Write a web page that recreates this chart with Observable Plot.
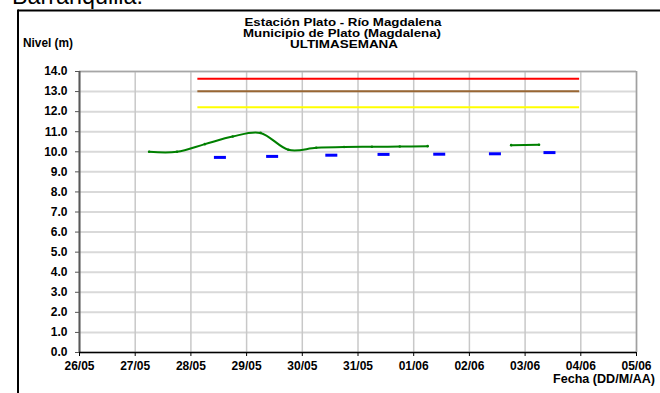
<!DOCTYPE html>
<html>
<head>
<meta charset="utf-8">
<script src="https://cdn.jsdelivr.net/npm/d3@7"></script>
<script src="https://cdn.jsdelivr.net/npm/@observablehq/plot@0.6"></script>
<style>
  html, body { margin: 0; padding: 0; background: white; }
  #wrap { position: relative; width: 660px; height: 393px; overflow: hidden; background: white; }
  #chart svg { position: absolute; left: 0; top: 0; }
  #overlay { position: absolute; left: 0; top: 0; pointer-events: none; }
  #overlay text { font-family: "Liberation Sans", Arial, sans-serif; fill: black; }
</style>
</head>
<body>
<div id="wrap">
  <div id="chart"></div>
  <svg id="overlay" width="660" height="393">
    <text x="12" y="4" font-size="23" textLength="131" lengthAdjust="spacingAndGlyphs">Barranquilla:</text>
    <line x1="18" y1="10.5" x2="660" y2="10.5" stroke="black" stroke-width="2"/>
    <line x1="18" y1="9.5" x2="18" y2="393" stroke="black" stroke-width="2"/>
    <text x="343" y="26" font-size="11" font-weight="bold" text-anchor="middle" textLength="197" lengthAdjust="spacingAndGlyphs">Estación Plato - Río Magdalena</text>
    <text x="342" y="37" font-size="11" font-weight="bold" text-anchor="middle" textLength="198" lengthAdjust="spacingAndGlyphs">Municipio de Plato (Magdalena)</text>
    <text x="344" y="48" font-size="11" font-weight="bold" text-anchor="middle" textLength="108" lengthAdjust="spacingAndGlyphs">ULTIMASEMANA</text>
    <text x="23" y="46.5" font-size="12" font-weight="bold" textLength="50" lengthAdjust="spacingAndGlyphs">Nivel (m)</text>
    <text x="655" y="383" font-size="12" font-weight="bold" text-anchor="end" textLength="102" lengthAdjust="spacingAndGlyphs">Fecha (DD/M/AA)</text>
  </svg>
</div>
<script>
// ---- data ----
const xTickDates = ["2024-05-26","2024-05-27","2024-05-28","2024-05-29","2024-05-30","2024-05-31","2024-06-01","2024-06-02","2024-06-03","2024-06-04","2024-06-05"];
const yTicks = [0,1,2,3,4,5,6,7,8,9,10,11,12,13,14];

// observed level (green), null = missing reading
const obsTimes = ["2024-05-27T06:00","2024-05-27T18:00","2024-05-28T06:00","2024-05-28T18:00","2024-05-29T06:00","2024-05-29T18:00","2024-05-30T06:00","2024-05-30T18:00","2024-05-31T06:00","2024-05-31T18:00","2024-06-01T06:00","2024-06-01T18:00","2024-06-02T06:00","2024-06-02T18:00","2024-06-03T06:00"];
const obsValues = [10.0, 10.0, 10.38, 10.76, 10.94, 10.1, 10.2, 10.24, 10.25, 10.26, 10.28, null, null, 10.33, 10.35];

// forecast points (blue dashes)
const fcTimes = ["2024-05-28T12:30","2024-05-29T11:00","2024-05-30T12:30","2024-05-31T11:00","2024-06-01T11:00","2024-06-02T11:00","2024-06-03T10:30"];
const fcValues = [9.72, 9.77, 9.83, 9.87, 9.88, 9.90, 9.96];

// alert thresholds
const thrNames = ["roja", "naranja", "amarilla"];
const thrValues = [13.64, 13.01, 12.22];
const thrColors = ["#ff0000", "#996633", "#ffff00"];
const thrStart = "2024-05-28T03:00";
const thrEnd = "2024-06-03T23:30";

// ---- build ----
const t = s => new Date(s + (s.length > 10 ? ":00Z" : "T00:00:00Z"));
const xTicks = xTickDates.map(t);
const obs = obsTimes.map((d, i) => ({date: t(d), value: obsValues[i] == null ? NaN : obsValues[i]}));
const fc = fcTimes.map((d, i) => ({date: t(d), value: fcValues[i]}));
const thr = thrNames.map((n, i) => ({name: n, value: thrValues[i], color: thrColors[i], x1: t(thrStart), x2: t(thrEnd)}));

const dashSymbol = {
  draw(context, size) {
    const r = Math.sqrt(size / Math.PI);
    context.moveTo(-r, 0);
    context.lineTo(r, 0);
  }
};

const chart = Plot.plot({
  width: 660,
  height: 393,
  marginLeft: 79,
  marginRight: 24,
  marginTop: 71,
  marginBottom: 41,
  style: {background: "transparent", fontFamily: "Liberation Sans, Arial, sans-serif", fontSize: "12px", fontWeight: "bold", color: "black"},
  x: {type: "utc", domain: [xTicks[0], xTicks[xTicks.length - 1]], label: null},
  y: {domain: [0, 14], label: null},
  marks: [
    Plot.ruleY(yTicks, {stroke: "#d9d9d9", strokeWidth: 2}),
    Plot.ruleX(xTicks, {stroke: "#c8c8c8", strokeWidth: 1.5}),
    Plot.ruleY([yTicks[yTicks.length - 1]], {stroke: "#a6a6a6", strokeWidth: 1.5}),
    Plot.ruleX([xTicks[xTicks.length - 1]], {stroke: "#a0a0a0", strokeWidth: 1.5}),
    Plot.ruleY(thr, {y: "value", x1: "x1", x2: "x2", stroke: "color", strokeWidth: 2}),
    Plot.line(obs, {x: "date", y: "value", stroke: "#008000", strokeWidth: 2, curve: "cardinal"}),
    Plot.dot(obs.filter(d => !isNaN(d.value)), {x: "date", y: "value", r: 1.3, fill: "#008000", stroke: "none"}),
    Plot.dot(fc, {x: "date", y: "value", symbol: dashSymbol, r: 6, stroke: "#0000ff", strokeWidth: 3, fill: "none", strokeLinecap: "butt"}),
    Plot.axisY(yTicks, {label: null, tickFormat: d => d.toFixed(1), tickSize: 4, tickPadding: 8, stroke: "#555", fill: "black"}),
    Plot.axisX(xTicks, {label: null, tickFormat: d3.utcFormat("%d/%m"), tickSize: 4, tickPadding: 5, stroke: "black", fill: "black"}),
    Plot.ruleX([xTicks[0]], {stroke: "#595959", strokeWidth: 2}),
    Plot.ruleY([0], {stroke: "black", strokeWidth: 1.5})
  ]
});
document.getElementById("chart").appendChild(chart);
</script>
</body>
</html>
